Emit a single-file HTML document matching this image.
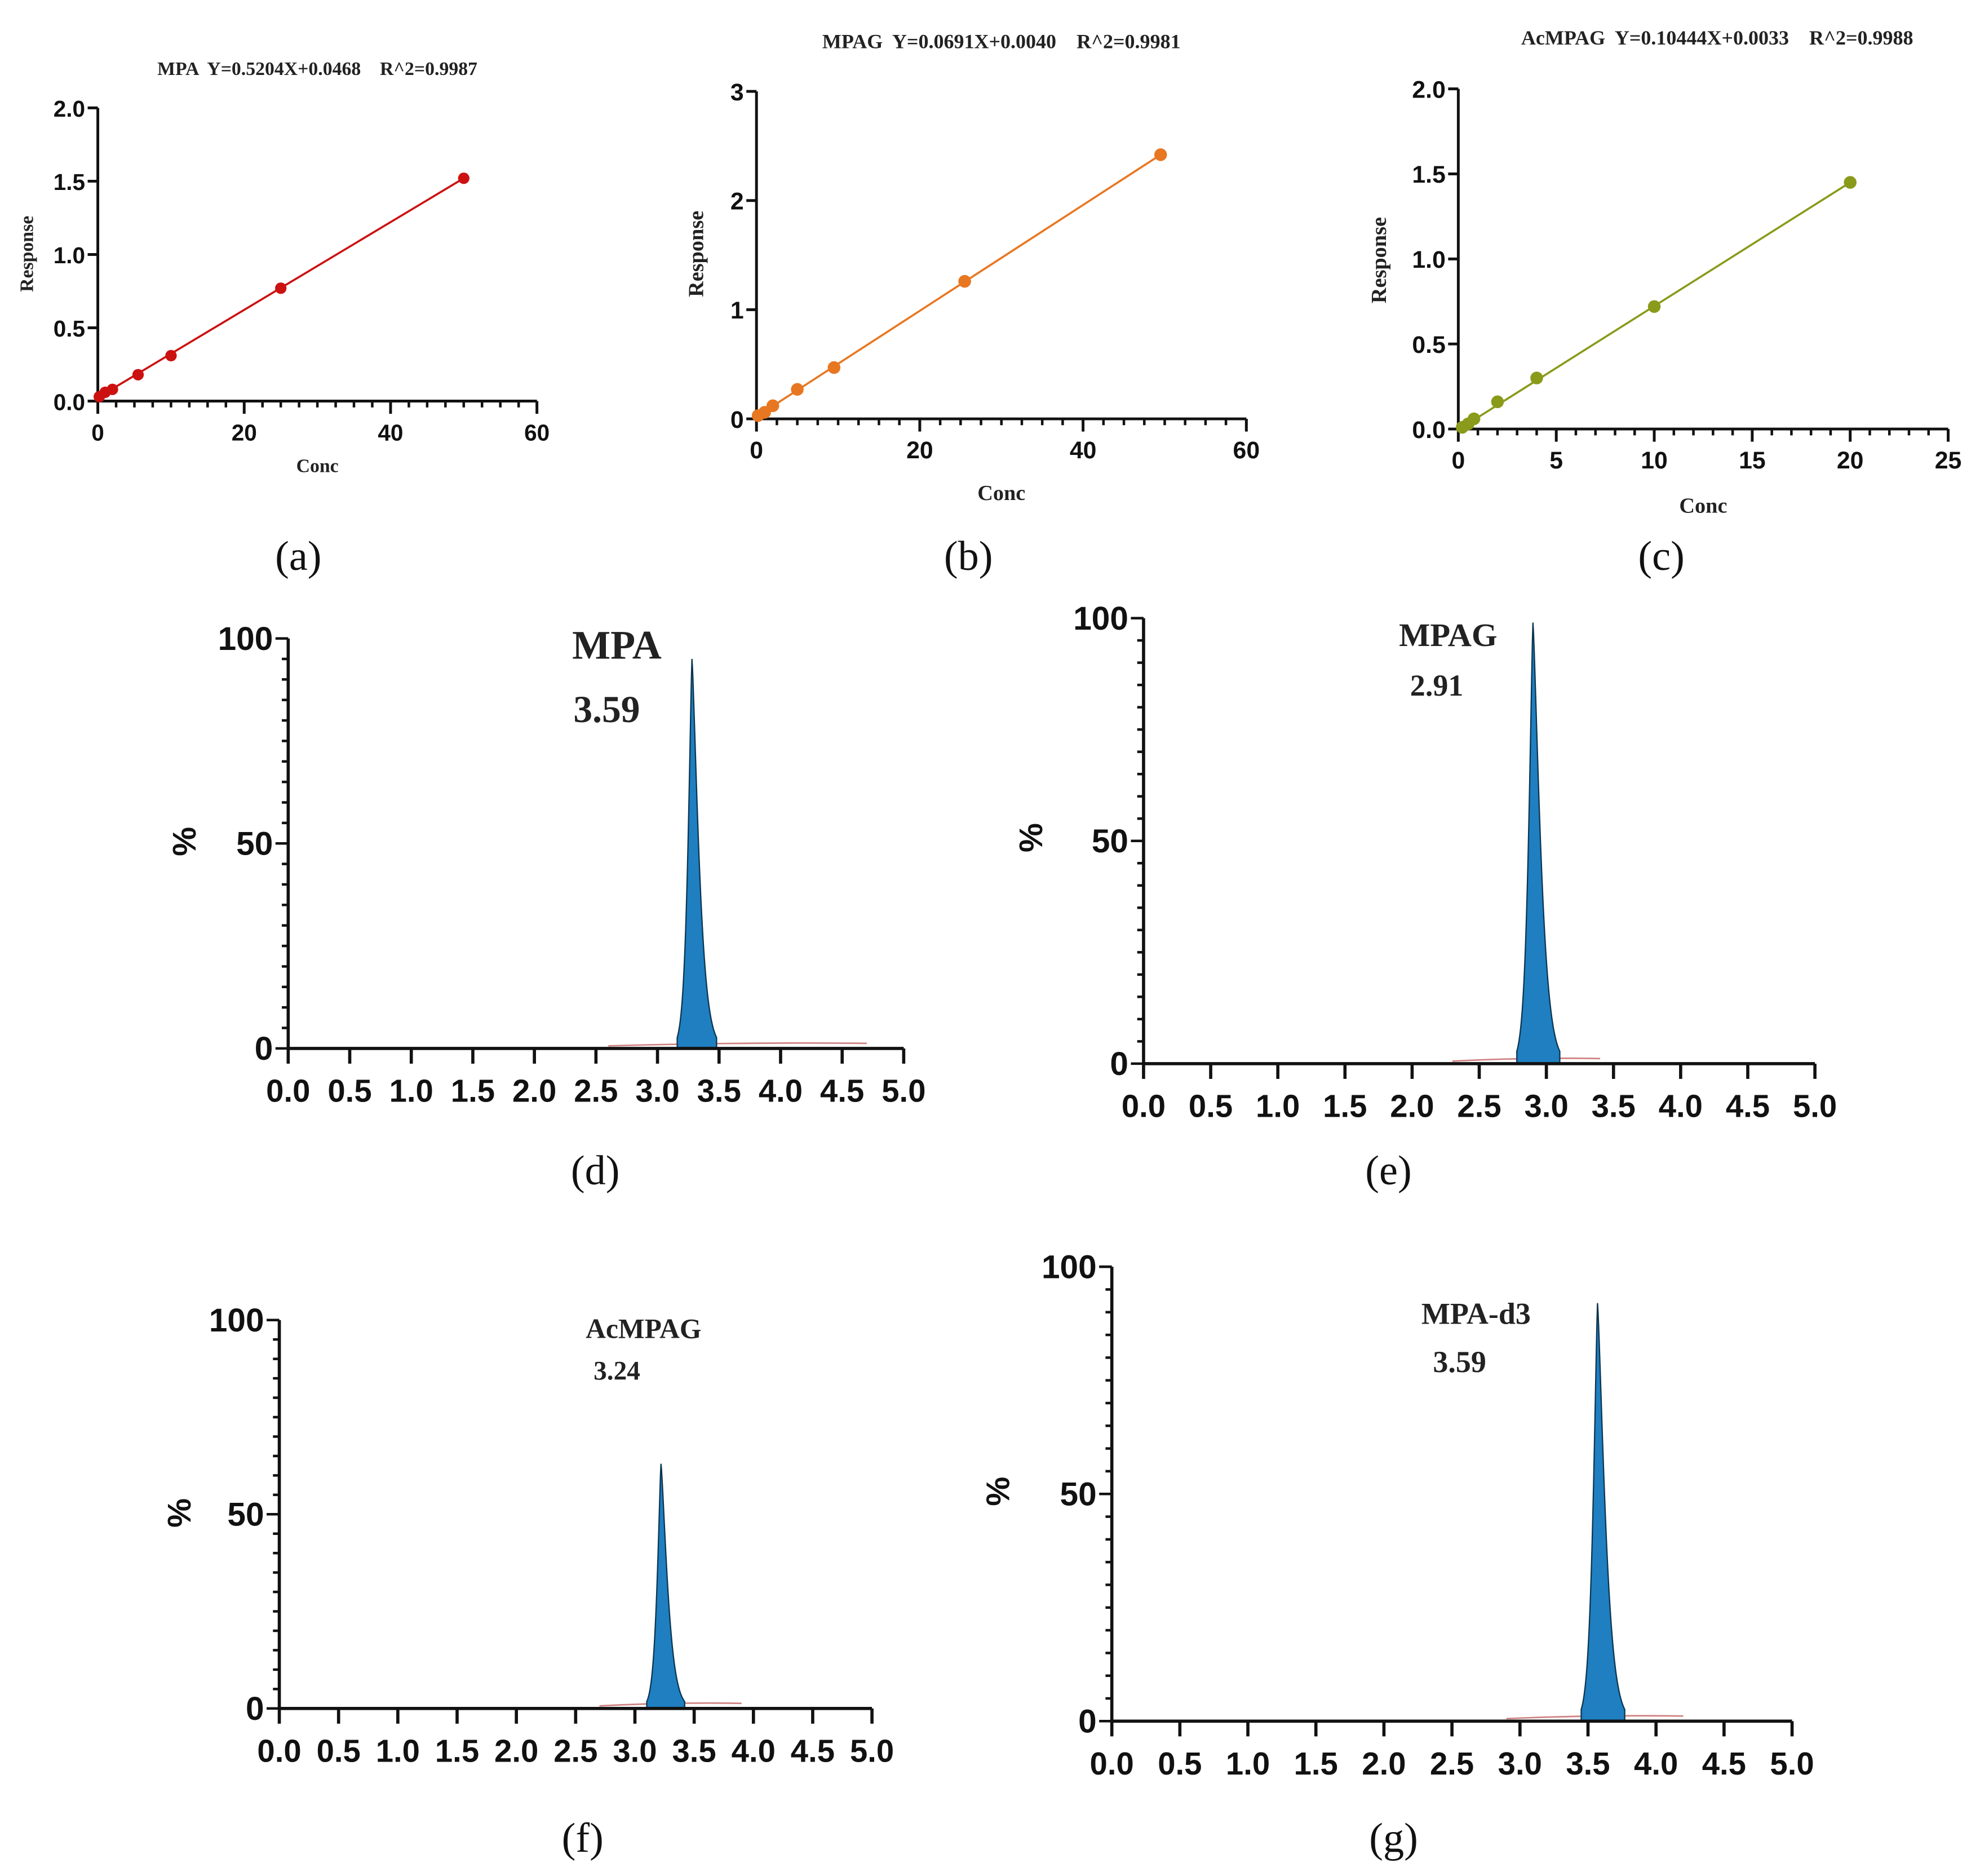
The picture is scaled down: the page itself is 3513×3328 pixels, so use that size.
<!DOCTYPE html>
<html><head><meta charset="utf-8"><style>
html,body{margin:0;padding:0;background:#fff;}
svg{display:block}
text{white-space:pre}
.ser{font-family:"Liberation Serif",serif;font-weight:bold;fill:#222}
.serr{font-family:"Liberation Serif",serif;font-weight:bold;fill:#222}
.san{font-family:"Liberation Sans Narrow","Liberation Sans",sans-serif;font-weight:bold;fill:#111}
</style></head><body>
<svg id="fig" width="3513" height="3328" viewBox="0 0 1560 1478" xmlns="http://www.w3.org/2000/svg" xml:space="preserve">
<rect width="1560" height="1478" fill="#fff"/>
</svg>
<script>
// Calibration data
const calA_conc = [0.2, 1, 2, 5.5, 10, 25, 50];
const calA_resp = [0.03, 0.06, 0.08, 0.18, 0.31, 0.77, 1.52];
const calB_conc = [0.2, 1, 2, 5, 9.5, 25.5, 49.5];
const calB_resp = [0.03, 0.06, 0.12, 0.27, 0.47, 1.26, 2.42];
const calC_conc = [0.2, 0.5, 0.8, 2, 4, 10, 20];
const calC_resp = [0.01, 0.03, 0.06, 0.16, 0.30, 0.72, 1.45];
const xTicksAB = [0, 20, 40, 60];
const yTicksA = [0.0, 0.5, 1.0, 1.5, 2.0];
const yTicksB = [0, 1, 2, 3];
const xTicksC = [0, 5, 10, 15, 20, 25];
const yTicksC = [0.0, 0.5, 1.0, 1.5, 2.0];
// Chromatogram data
const peakNames = ["MPA", "MPAG", "AcMPAG", "MPA-d3"];
const peakRTlabels = ["3.59", "2.91", "3.24", "3.59"];
const peakCenters = [3.28, 2.90, 3.22, 3.57];
const peakHeights = [95, 99, 63, 92];
const chromXTicks = [0.0, 0.5, 1.0, 1.5, 2.0, 2.5, 3.0, 3.5, 4.0, 4.5, 5.0];
const chromYTicks = [0, 50, 100];

const NS = "http://www.w3.org/2000/svg";
const svg = document.getElementById('fig');
function el(tag, attrs, parent, text){
  const e = document.createElementNS(NS, tag);
  for (const k in attrs) e.setAttribute(k, attrs[k]);
  if (text !== undefined) e.textContent = text;
  (parent || svg).appendChild(e);
  return e;
}
function scale(d0,d1,r0,r1){ return v => r0 + (v-d0)/(d1-d0)*(r1-r0); }

function calPanel(o){
  const g = el('g', {});
  
  
  const sx = scale(o.xd[0], o.xd[1], o.x0, o.x1);
  const sy = scale(o.yd[0], o.yd[1], o.y0, o.y1);
  const ax = el('path', {d:`M${o.x0} ${o.y1}V${o.y0}H${o.x1}`, stroke:'#111', 'stroke-width':2.2, fill:'none'}, g);
  
  
  for (let v = o.xd[0]; v <= o.xd[1] + 1e-9; v += o.xminor){
    el('line', {x1:sx(v), x2:sx(v), y1:o.y0, y2:o.y0+5, stroke:'#111','stroke-width':2}, g);
  }
  o.xt.forEach(v=>{
    el('line', {x1:sx(v), x2:sx(v), y1:o.y0, y2:o.y0+10, stroke:'#111','stroke-width':2.2}, g);
    const t = el('text', {x:sx(v), y:o.y0+31, 'text-anchor':'middle', class:'san','font-size':o.fs}, g, String(v));
    
    
  });
  o.yt.forEach(v=>{
    el('line', {x1:o.x0-8, x2:o.x0, y1:sy(v), y2:sy(v), stroke:'#111','stroke-width':2.2}, g);
    const t = el('text', {x:o.x0-10, y:sy(v)+7, 'text-anchor':'end', class:'san','font-size':o.fs}, g, o.fmt(v));
    
    
  });
  const pts = o.cx.map((c,i)=>[sx(c), sy(o.cy[i])]);
  const ln = el('line', {x1:pts[0][0], y1:pts[0][1], x2:pts[pts.length-1][0], y2:pts[pts.length-1][1], stroke:o.color,'stroke-width':1.6}, g);
  
  
  pts.forEach(p=>{
    const c = el('circle', {cx:p[0], cy:p[1], r:o.r, fill:o.color}, g);
    
    
  });
  const tt = el('text', {x:o.tx, y:o.ty, 'text-anchor':'middle', class:'ser','font-size':o.tfs}, g, o.title);
  
  
  const yl = el('text', {x:0, y:0, 'text-anchor':'middle', class:'ser','font-size':o.lfs, transform:`translate(${o.ylx},${o.yly}) rotate(-90)`}, g, 'Response');
  
  
  const xl = el('text', {x:o.xlx, y:o.xly, 'text-anchor':'middle', class:'ser','font-size':o.lfs}, g, 'Conc');
  
  
}

calPanel({name:'panel-a', xd:[0,60], yd:[0,2], x0:77, x1:423, y0:316, y1:85, xminor:2.5, xt:xTicksAB, yt:yTicksA, fmt:v=>v.toFixed(1),
  cx:calA_conc, cy:calA_resp, color:'#cc1111', r:4.5, fs:18, title:'MPA  Y=0.5204X+0.0468    R^2=0.9987', tx:250, ty:59, tfs:15, ylx:26, yly:200, xlx:250, xly:372, lfs:15});
calPanel({name:'panel-b', xd:[0,60], yd:[0,3], x0:596, x1:982, y0:330, y1:72, xminor:2.5, xt:xTicksAB, yt:yTicksB, fmt:v=>String(v),
  cx:calB_conc, cy:calB_resp, color:'#e87722', r:5, fs:19, title:'MPAG  Y=0.0691X+0.0040    R^2=0.9981', tx:789, ty:38, tfs:16, ylx:554, yly:200, xlx:789, xly:394, lfs:17});
calPanel({name:'panel-c', xd:[0,25], yd:[0,2], x0:1149, x1:1535, y0:338, y1:70, xminor:1, xt:xTicksC, yt:yTicksC, fmt:v=>v.toFixed(1),
  cx:calC_conc, cy:calC_resp, color:'#8a9a1a', r:5, fs:19, title:'AcMPAG  Y=0.10444X+0.0033    R^2=0.9988', tx:1353, ty:35, tfs:16, ylx:1092, yly:205, xlx:1342, xly:404, lfs:17});

function chromPanel(o, i){
  const g = el('g', {});
  
  
  const sx = scale(0, 5, o.x0, o.x1);
  const sy = scale(0, 100, o.y0, o.y1);
  const nz = el('path', {d:`M${sx(o.n0)} ${o.y0-2}Q${sx((o.n0+o.n1)/2)} ${o.y0-5} ${sx(o.n1)} ${o.y0-4}`, stroke:'#d08080', 'stroke-width':1.2, fill:'none'}, g);
  
  
  const c = peakCenters[i], h = peakHeights[i];
  const sL = 0.045, sR = 0.075;
  let d = `M${sx(c-0.12)} ${o.y0}`;
  for (let t = c-0.12; t <= c+0.2; t += 0.004){
    const s = t < c ? sL : sR;
    const y = h*Math.exp(-Math.pow(Math.abs(t-c)/s, 1.3));
    d += `L${sx(t).toFixed(2)} ${sy(y).toFixed(2)}`;
  }
  d += `L${sx(c+0.2)} ${o.y0}Z`;
  const pk = el('path', {d, fill:'#1f7fc0', stroke:'#0b3550', 'stroke-width':1}, g);
  
  
  el('path', {d:`M${o.x0} ${o.y1}V${o.y0}H${o.x1}`, stroke:'#111', 'stroke-width':2.5, fill:'none'}, g);
  for (let v = 0; v <= 100; v += 5){
    const L = v % 50 === 0 ? 10 : 5;
    el('line', {x1:o.x0-L, x2:o.x0, y1:sy(v), y2:sy(v), stroke:'#111','stroke-width':2}, g);
  }
  chromYTicks.forEach(v=>{
    const t = el('text', {x:o.x0-12, y:sy(v)+9, 'text-anchor':'end', class:'san','font-size':26}, g, String(v));
    
    
  });
  chromXTicks.forEach(v=>{
    el('line', {x1:sx(v), x2:sx(v), y1:o.y0, y2:o.y0+12, stroke:'#111','stroke-width':2.5}, g);
    const t = el('text', {x:sx(v), y:o.y0+42, 'text-anchor':'middle', class:'san','font-size':25}, g, v.toFixed(1));
    
    
  });
  const yl = el('text', {x:0, y:0, 'text-anchor':'middle', class:'san','font-size':26, transform:`translate(${o.plx},${o.ply}) rotate(-90)`}, g, '%');
  
  
  const nm = el('text', {x:o.nx, y:o.ny, 'text-anchor':'middle', class:'serr','font-size':o.nfs}, g, peakNames[i]);
  
  
  const rt = el('text', {x:o.rx, y:o.ry, 'text-anchor':'middle', class:'serr','font-size':o.rfs}, g, peakRTlabels[i]);
  
  
}
chromPanel({name:'panel-d', x0:227, x1:712, y0:826, y1:503, n0:2.6, n1:4.7, plx:154, ply:663, nx:486, ny:519, nfs:32, rx:478, ry:569, rfs:30}, 0);
chromPanel({name:'panel-e', x0:901, x1:1430, y0:838, y1:487, n0:2.3, n1:3.4, plx:821, ply:660, nx:1141, ny:509, nfs:26, rx:1132, ry:548, rfs:24}, 1);
chromPanel({name:'panel-f', x0:220, x1:687, y0:1346, y1:1040, n0:2.7, n1:3.9, plx:150, ply:1192, nx:507, ny:1054, nfs:22, rx:486, ry:1087, rfs:21}, 2);
chromPanel({name:'panel-g', x0:876, x1:1412, y0:1356, y1:998, n0:2.9, n1:4.2, plx:795, ply:1175, nx:1163, ny:1043, nfs:24, rx:1150, ry:1081, rfs:24}, 3);

const labs = [["(a)",235,449],["(b)",763,449],["(c)",1309,449],["(d)",469,933],["(e)",1094,933],["(f)",459,1459],["(g)",1098,1459]];
labs.forEach(l=>{
  const t = el('text', {x:l[1], y:l[2], 'text-anchor':'middle', 'font-family':'"Liberation Serif",serif', 'font-size':33, fill:'#111'}, svg, l[0]);
  
  
});
</script>
</body></html>
